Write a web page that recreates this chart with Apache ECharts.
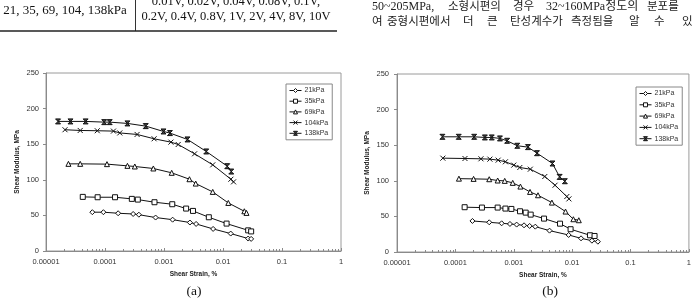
<!DOCTYPE html>
<html>
<head>
<meta charset="utf-8">
<script src="https://cdn.jsdelivr.net/npm/echarts@6.0.0/dist/echarts.min.js"></script>
<style>
html,body{margin:0;padding:0;background:#fff;}
#chart{width:694px;height:301px;}
</style>
</head>
<body>
<div id="chart"></div>
<script>
// ---------- data ----------
const seriesNames = ['21kPa', '35kPa', '69kPa', '104kPa', '138kPa'];
const xTickLabels = ['0.00001', '0.0001', '0.001', '0.01', '0.1', '1'];
const yTickValues = [0, 50, 100, 150, 200, 250];
const minorMultipliers = [2, 3, 4, 5, 6, 7, 8, 9];

// (a)
const a21x = [6.1e-5, 9.4e-5, 1.67e-4, 3.0e-4, 3.75e-4, 7.2e-4, 1.4e-3, 2.75e-3, 3.5e-3, 6.8e-3, 1.35e-2, 2.67e-2, 3.0e-2];
const a21y = [54.5, 54.5, 53, 52, 51, 47, 44, 40, 38, 31, 24.5, 17.5, 17];
const a35x = [4.2e-5, 7.5e-5, 1.48e-4, 2.85e-4, 3.6e-4, 6.9e-4, 1.38e-3, 2.37e-3, 3.1e-3, 5.75e-3, 1.15e-2, 2.67e-2, 3.0e-2];
const a35y = [76, 75.5, 75.5, 73.2, 72.2, 68.5, 65.7, 59.6, 56.3, 47.4, 38.5, 29, 27.5];
const a69x = [2.4e-5, 3.8e-5, 1.08e-4, 2.4e-4, 3.2e-4, 6.6e-4, 1.35e-3, 2.7e-3, 3.45e-3, 6.7e-3, 1.23e-2, 2.3e-2, 2.5e-2];
const a69y = [122.4, 122.4, 122, 119.6, 118.7, 115.9, 109.8, 100.8, 94.7, 83, 67.5, 55.8, 53.5];
const a104x = [2.1e-5, 3.8e-5, 7.4e-5, 1.39e-4, 1.78e-4, 3.5e-4, 6.8e-4, 1.31e-3, 1.74e-3, 3.3e-3, 6.7e-3, 1.36e-2, 1.51e-2];
const a104y = [170.3, 169.3, 168.9, 168.4, 165.8, 163.7, 157.6, 152.9, 149.6, 136.5, 121, 100.8, 97.1];
const a138x = [1.6e-5, 2.6e-5, 4.7e-5, 9.7e-5, 1.2e-4, 2.4e-4, 4.9e-4, 9.8e-4, 1.26e-3, 2.5e-3, 5.2e-3, 1.18e-2, 1.38e-2];
const a138y = [182, 182, 182, 181, 181, 179.2, 175.4, 167.9, 165.6, 156.7, 139.8, 119.1, 111.6];

// (b)
const b21x = [1.96e-4, 3.8e-4, 6.2e-4, 8.6e-4, 1.12e-3, 1.5e-3, 1.87e-3, 2.34e-3, 4.1e-3, 8.7e-3, 1.42e-2, 2.18e-2, 2.76e-2];
const b21y = [43.6, 41.7, 40.3, 39.4, 38.5, 37.5, 36.6, 35.6, 30, 23.9, 19.2, 15.9, 14.5];
const b35x = [1.44e-4, 2.85e-4, 5.3e-4, 7.2e-4, 9.1e-4, 1.28e-3, 1.6e-3, 1.95e-3, 3.3e-3, 6.2e-3, 9.4e-3, 2.02e-2, 2.42e-2];
const b35y = [62.9, 62.4, 62.4, 61, 60.5, 57.2, 55.3, 52.5, 46.9, 39.8, 32, 23.5, 22.5];
const b69x = [1.15e-4, 2.05e-4, 3.8e-4, 5.3e-4, 7.0e-4, 9.6e-4, 1.3e-3, 1.9e-3, 2.6e-3, 4.5e-3, 7.7e-3, 1.05e-2, 1.3e-2];
const b69y = [103, 102.7, 102.2, 100.4, 99.9, 97.1, 91.9, 84.4, 79.7, 69.4, 56.8, 46, 44.6];
const b104x = [6.1e-5, 1.46e-4, 2.74e-4, 3.9e-4, 5.4e-4, 7.2e-4, 1.0e-3, 1.27e-3, 1.92e-3, 3.4e-3, 5.1e-3, 8.1e-3, 8.8e-3];
const b104y = [131.8, 131.3, 130.9, 130.4, 129, 126.7, 122, 118.7, 116.3, 106, 93.8, 77.9, 74.6];
const b138x = [6.0e-5, 1.14e-4, 2.1e-4, 3.2e-4, 4.2e-4, 5.8e-4, 7.7e-4, 1.15e-3, 1.75e-3, 2.5e-3, 4.6e-3, 6.1e-3, 7.5e-3];
const b138y = [161.8, 161.8, 161.8, 160.9, 160.9, 159.5, 156.2, 149.2, 147.3, 138.8, 124.3, 105.5, 99.4];

// ---------- styles ----------
const markerOf = {
  '21kPa': {symbol: 'diamond', size: 5, fill: '#fff'},
  '35kPa': {symbol: 'rect', size: 5, fill: '#fff'},
  '69kPa': {symbol: 'triangle', size: 5, fill: '#fff'},
  '104kPa': {symbol: 'path://M0,0L10,10M10,0L0,10', size: 5, fill: '#fff'},
  '138kPa': {symbol: 'path://M0,0L10,0L0,10L10,10Z', size: 5, fill: '#444'}
};

function makeSeries(name, xs, ys, idx) {
  const m = markerOf[name];
  return {
    name: name,
    type: 'line',
    xAxisIndex: idx,
    yAxisIndex: idx,
    data: xs.map((x, i) => [x, ys[i]]),
    symbol: m.symbol,
    symbolSize: m.size,
    showAllSymbol: true,
    lineStyle: {color: '#111', width: 1},
    itemStyle: {color: m.fill, borderColor: '#111', borderWidth: 1},
    emphasis: {disabled: true},
    z: 3
  };
}

const axisGray = '#8a8a8a';
const labelFont = 'Liberation Sans';

function makeXAxis(idx) {
  return {
    type: 'log', logBase: 10, gridIndex: idx, min: 0.00001, max: 1,
    axisLine: {show: true, lineStyle: {color: axisGray, width: 1}},
    axisTick: {show: true, inside: true, length: 3, lineStyle: {color: axisGray}},
    splitLine: {show: false},
    axisLabel: {
      fontSize: 7.5, color: '#333', fontFamily: labelFont, margin: 7,
      formatter: function (v) { return xTickLabels[Math.round(Math.log10(v)) + 5]; }
    },
    name: 'Shear Strain, %', nameLocation: 'middle', nameGap: 20,
    nameTextStyle: {fontSize: 6.5, fontWeight: 'bold', color: '#222', fontFamily: labelFont}
  };
}
function makeYAxis(idx, gap, margin) {
  return {
    type: 'value', gridIndex: idx, min: yTickValues[0], max: yTickValues[yTickValues.length - 1], interval: 50,
    axisLine: {show: true, lineStyle: {color: axisGray, width: 1}},
    axisTick: {show: true, inside: false, length: 3, lineStyle: {color: axisGray}},
    splitLine: {show: false},
    axisLabel: {fontSize: 7.5, color: '#333', fontFamily: labelFont, margin: margin},
    name: 'Shear Modulus, MPa', nameLocation: 'middle', nameGap: gap,
    nameTextStyle: {fontSize: 6.5, fontWeight: 'bold', color: '#222', fontFamily: labelFont}
  };
}
function makeLegend(left, top, gap) {
  return {
    data: seriesNames.map(function (n) {
      const m = markerOf[n];
      return {name: n,
        itemStyle: {color: m.fill, borderColor: '#111', borderWidth: 1},
        lineStyle: {color: '#111', width: 1}};
    }),
    orient: 'vertical', left: left, top: top,
    padding: [2, 4, 2, 3], itemGap: gap, itemWidth: 12, itemHeight: 5,
    borderColor: '#888', borderWidth: 1, backgroundColor: '#fff',
    selectedMode: false,
    textStyle: {fontSize: 7, color: '#333', fontFamily: labelFont, lineHeight: 9, padding: [0, 0, 0, -2]}
  };
}

const chart = echarts.init(document.getElementById('chart'), null, {renderer: 'canvas'});

const series = [
  makeSeries('21kPa', a21x, a21y, 0),
  makeSeries('35kPa', a35x, a35y, 0),
  makeSeries('69kPa', a69x, a69y, 0),
  makeSeries('104kPa', a104x, a104y, 0),
  makeSeries('138kPa', a138x, a138y, 0),
  makeSeries('21kPa', b21x, b21y, 1),
  makeSeries('35kPa', b35x, b35y, 1),
  makeSeries('69kPa', b69x, b69y, 1),
  makeSeries('104kPa', b104x, b104y, 1),
  makeSeries('138kPa', b138x, b138y, 1)
];

chart.setOption({
  animation: false,
  backgroundColor: '#fff',
  grid: [
    {left: 46, top: 73, right: 353, bottom: 50, show: true, borderColor: '#9a9a9a', borderWidth: 1},
    {left: 397, top: 74, right: 2.5, bottom: 49, show: true, borderColor: '#9a9a9a', borderWidth: 1}
  ],
  xAxis: [makeXAxis(0), makeXAxis(1)],
  yAxis: [makeYAxis(0, 25, 7), makeYAxis(1, 26, 8)],
  legend: [makeLegend(286, 84, 1.7), makeLegend(636, 87, 2.3)],
  series: series
});

// ---------- static graphics ----------
const serif = "'Liberation Serif', 'Noto Sans CJK KR', serif";
function txt(text, x, y, size, align, color) {
  return {type: 'text', x: x, y: y, silent: true, z: 10,
    style: {text: text, fontSize: size, fontFamily: serif, fill: color || '#111', align: align || 'left', verticalAlign: 'middle'}};
}
const graphics = [
  // table fragment
  {type: 'line', silent: true, shape: {x1: 135.5, y1: 0, x2: 135.5, y2: 31}, style: {stroke: '#333', lineWidth: 1}},
  {type: 'line', silent: true, shape: {x1: 0, y1: 31, x2: 337, y2: 31}, style: {stroke: '#222', lineWidth: 1.6}},
  txt('21, 35, 69, 104, 138kPa', 65, 10.8, 13, 'center'),
  txt('0.01V, 0.02V, 0.04V, 0.08V, 0.1V,', 236, 1.6, 12.5, 'center'),
  txt('0.2V, 0.4V, 0.8V, 1V, 2V, 4V, 8V, 10V', 236, 17.2, 12.5, 'center'),
  // Korean paragraph fragment
  txt('50~205MPa,', 372, 7.3, 12, 'left', '#222'),
  txt('소형시편의', 448, 7.3, 11.5, 'left', '#222'),
  txt('경우', 513, 7.3, 11.5, 'left', '#222'),
  txt('32~160MPa정도의', 546, 7.3, 12, 'left', '#222'),
  txt('분포를', 647, 7.3, 11.5, 'left', '#222'),
  txt('여', 372, 21.5, 11.5, 'left', '#222'),
  txt('중형시편에서', 387, 21.5, 11.5, 'left', '#222'),
  txt('더', 463, 21.5, 11.5, 'left', '#222'),
  txt('큰', 487, 21.5, 11.5, 'left', '#222'),
  txt('탄성계수가', 510, 21.5, 11.5, 'left', '#222'),
  txt('측정됨을', 571, 21.5, 11.5, 'left', '#222'),
  txt('알', 629, 21.5, 11.5, 'left', '#222'),
  txt('수', 654, 21.5, 11.5, 'left', '#222'),
  txt('있', 682, 21.5, 11.5, 'left', '#222'),
  // sub-figure captions
  txt('(a)', 194, 291.5, 13.5, 'center'),
  txt('(b)', 550, 291.5, 13.5, 'center')
];

// minor ticks on the log axes, positioned through the axis scales
[0, 1].forEach(function (gi) {
  const y0 = chart.convertToPixel({yAxisIndex: gi}, 0);
  for (let e = -5; e < 0; e++) {
    minorMultipliers.forEach(function (k) {
      const v = k * Math.pow(10, e);
      const px = Math.round(chart.convertToPixel({xAxisIndex: gi}, v)) + 0.5;
      graphics.push({type: 'line', silent: true, z: 2,
        shape: {x1: px, y1: y0, x2: px, y2: y0 - 2}, style: {stroke: axisGray, lineWidth: 1}});
    });
  }
});

chart.setOption({graphic: graphics});
</script>
</body>
</html>
